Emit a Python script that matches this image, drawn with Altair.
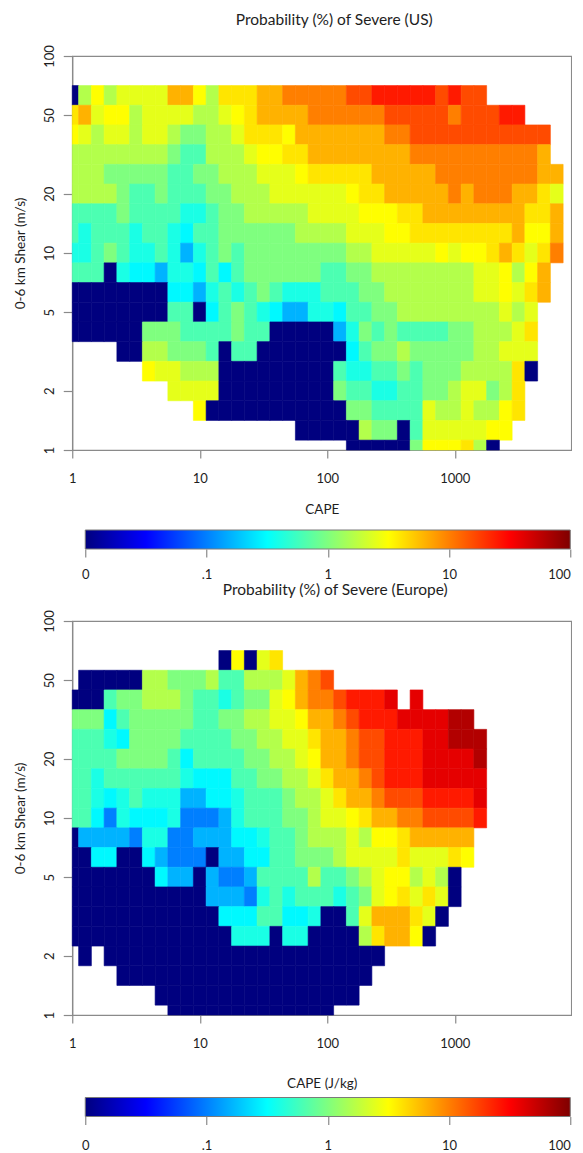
import math
import altair as alt
import pandas as pd

# ---------------- data ----------------
# Cell codes -> probability of severe (%) ; '.' = no data, '0' = zero probability
CODE_PROB = {
    "0": 0.0, "4": 0.063, "5": 0.10, "6": 0.16, "7": 0.30, "8": 0.40, "9": 0.63,
    "A": 1.0, "B": 1.6, "C": 2.5, "Y": 3.2, "D": 4.0, "E": 6.3, "F": 10.0,
    "G": 16.0, "H": 25.0, "I": 40.0, "J": 63.0, "K": 100.0,
}

# bin centres (log10) of CAPE columns and of shear rows (rows listed top -> bottom)
CAPE_LOG10 = [0.0, 0.1, 0.2, 0.3, 0.4, 0.5, 0.6, 0.7, 0.8, 0.9,
              1.0, 1.1, 1.2, 1.3, 1.4, 1.5, 1.6, 1.7, 1.8, 1.9,
              2.0, 2.1, 2.2, 2.3, 2.4, 2.5, 2.6, 2.7, 2.8, 2.9,
              3.0, 3.1, 3.2, 3.3, 3.4, 3.5, 3.6, 3.7, 3.8]
SHEAR_LOG10 = [1.8, 1.7, 1.6, 1.5, 1.4, 1.3, 1.2, 1.1, 1.0, 0.9,
               0.8, 0.7, 0.6, 0.5, 0.4, 0.3, 0.2, 0.1, 0.0]

US_ROWS = [
    "0BYBCCCC" "EEYBDDDE" "EFFFFFGG" "HHHHHGHG" "G......",
    "DECYYBCC" "CCBBCYDE" "EEEFFFFF" "FGGGGGFG" "GGHH...",
    "YCBCCBCC" "BAABBCDD" "DYEEEEEE" "EFFGGGGG" "GGGGGG.",
    "BBBBBBBB" "A99BBBCY" "YDDEEEEE" "EEEFFFFF" "FFFFFE.",
    "BBBAAAAA" "99AABBBC" "CCYDDDDD" "EEEEEFFF" "FFFFFEE",
    "BBBBA99A" "999AABBB" "CCCCCCYD" "DEEEEEFE" "FFFEEDC",
    "9999A999" "9889AABB" "BBBCCCCY" "YYDDEEEE" "EEEEDDE",
    "98999899" "8799AAAA" "AABBBBCC" "CYYDDDDD" "DDDEYYE",
    "889A9889" "8689A9AA" "AAAAAABB" "CCCCCYCY" "YDEDCDF",
    "99908776" "887979AA" "AAAA99AA" "BBBBBBBB" "CCYBYE.",
    "00000000" "7768989A" "9888999A" "ABBBBBBB" "CCYCDE.",
    "00000000" "99079A98" "76688799" "AABBBBBB" "BBCBC..",
    "000000AA" "A9999A99" "0000068A" "9A9999AA" "BBBCD..",
    "....00BB" "AAA90990" "00000079" "AABAAAAA" "BBCCC..",
    "......YC" "CBBB0000" "00000988" "99A9AAAB" "BBBD0..",
    "........" "CCCC0000" "00000A99" "8899AABC" "CABD...",
    "........" "..Y00000" "000000AA" "9999CBBC" "BBYD...",
    "........" "........" "..00000B" "AA09CCCC" "CYY....",
    "........" "........" "......00" "000AYYYD" "B0.....",
]

EU_ROWS = [
    "........" "....0Y0C" "D......." "........" ".......",
    ".00000BB" "AAAB99BB" "BCEFG..." "........" ".......",
    "0009AABB" "BA9989AA" "CYEFFGHH" "HI.I...." ".......",
    "AAA79AAA" "AA99AABB" "CCYEEFGH" "HHIIIIJJ" ".......",
    "99987AAA" "A9999AAB" "BCCDEEFG" "GHHHIIJJ" "J......",
    "9999AAAA" "979999AA" "BBCYEEFG" "GHHHIIII" "J......",
    "99899999" "9877799A" "ABBCDEEF" "GHHHIIII" "I......",
    "99878988" "86677899" "9ABBCDEE" "FGGGHHHH" "I......",
    "99758777" "85556899" "9AABCCYD" "EEFFGGGG" "H......",
    "06666588" "55666778" "99ABBBCB" "YYDEEEEE" ".......",
    "00770076" "55506677" "99AAABCC" "CCDCCCDY" ".......",
    "00000007" "66065569" "999B99AB" "CYYBCB0." ".......",
    "00000000" "00066658" "9899989A" "CYDCDC0." ".......",
    "00000000" "00007779" "9778009C" "EEEDC0.." ".......",
    "00000000" "00000888" "0880000B" "DEEY0..." ".......",
    ".0.00000" "00000000" "00000000" "0......." ".......",
    "....0000" "00000000" "00000000" "........" ".......",
    ".......0" "00000000" "0000000." "........" ".......",
    "........" "00000000" "00000..." "........" ".......",
]

X_TICKS = [1, 10, 100, 1000]
Y_TICKS = [1, 2, 5, 10, 20, 50, 100]
CB_TICKS = [0.01, 0.1, 1, 10, 100]

# jet colour map, keyed on log10(probability %)
JET_DOMAIN = [-2, -1.5, -1, -0.5, 0, 0.5, 1, 1.5, 2]
JET_RANGE = ["#00007f", "#0000ff", "#007fff", "#00ffff", "#7fff7f",
             "#ffff00", "#ff7f00", "#ff0000", "#7f0000"]

# ---------------- layout / style ----------------
FONT = "Lato"
TEXT = "#1e1e1e"
GRAY = "#8a8a8a"
PLOT_W = 499
PLOT_H = 394
DECADE_PX = 127.5
CAPE_MAX = 10 ** (PLOT_W / DECADE_PX)
HALF = 0.05
BAR_LEFT_GAP = 13
BAR_RIGHT_GAP = 1


def cell_table(rows):
    recs = []
    for ri, row in enumerate(rows):
        ls = SHEAR_LOG10[ri]
        for ci, ch in enumerate(row):
            if ch == ".":
                continue
            lc = CAPE_LOG10[ci]
            p = CODE_PROB[ch]
            recs.append({
                "cape_lo": max(1.0, 10 ** (lc - HALF)),
                "cape_hi": 10 ** (lc + HALF),
                "shear_lo": max(1.0, 10 ** (ls - HALF)),
                "shear_hi": 10 ** (ls + HALF),
                "prob": p,
                "logp": math.log10(max(p, 0.01)),
            })
    return pd.DataFrame(recs)


color_scale = alt.Scale(domain=JET_DOMAIN, range=JET_RANGE, interpolate="rgb")


def heatmap(df, title, title_offset, title_dx, xtitle, xtitle_pad):
    return alt.Chart(df).mark_rect(strokeWidth=0.6).encode(
        x=alt.X("cape_lo:Q",
                scale=alt.Scale(type="log", domain=[1, CAPE_MAX], nice=False),
                axis=alt.Axis(values=X_TICKS, format="d", title=xtitle,
                              titlePadding=xtitle_pad, tickSize=8, labelPadding=14,
                              labelFlush=False)),
        x2="cape_hi:Q",
        y=alt.Y("shear_lo:Q",
                scale=alt.Scale(type="log", domain=[1, 100], nice=False),
                axis=alt.Axis(values=Y_TICKS, format="d", title="0-6 km Shear (m/s)",
                              labelAngle=270, labelAlign="center", labelBaseline="bottom",
                              tickSize=9, labelPadding=7, titlePadding=15.3)),
        y2="shear_hi:Q",
        fill=alt.Fill("logp:Q", scale=color_scale, legend=None),
        stroke=alt.Stroke("logp:Q", scale=color_scale, legend=None),
        tooltip=[alt.Tooltip("prob:Q", title="Probability (%)")],
    ).properties(
        width=PLOT_W, height=PLOT_H,
        title=alt.TitleParams(title, offset=title_offset, dx=title_dx),
        view=alt.ViewBackground(stroke=GRAY, strokeWidth=1.2),
    )


decade = (PLOT_W - BAR_LEFT_GAP - BAR_RIGHT_GAP) / 4.0
CB_MIN = 10 ** (-2 - BAR_LEFT_GAP / decade)
CB_MAX = 10 ** (2 + BAR_RIGHT_GAP / decade)

jet_gradient = alt.LinearGradient(
    gradient="linear",
    stops=[alt.GradientStop(offset=i / (len(JET_RANGE) - 1), color=c)
           for i, c in enumerate(JET_RANGE)],
    x1=0, x2=1, y1=0, y2=0,
)


def colorbar(label_pad):
    bar_df = pd.DataFrame({"lo": [CB_TICKS[0]], "hi": [CB_TICKS[-1]]})
    return alt.Chart(bar_df).mark_rect(fill=jet_gradient, stroke="#7a7a7a", strokeWidth=1).encode(
        x=alt.X("lo:Q",
                scale=alt.Scale(type="log", domain=[CB_MIN, CB_MAX], nice=False),
                axis=alt.Axis(values=CB_TICKS, title=None, domain=False, tickSize=8,
                              labelPadding=label_pad, labelFlush=5,
                              labelExpr="datum.value < 0.05 ? '0' : (datum.value < 0.5 ? '.1' : format(datum.value, 'd'))")),
        x2="hi:Q",
    ).properties(width=PLOT_W, height=19)


us = cell_table(US_ROWS)
eu = cell_table(EU_ROWS)

top = alt.vconcat(
    heatmap(us, "Probability (%) of Severe (US)", 16, 12.5, "CAPE", 17.75),
    colorbar(11.5),
    spacing=12,
)
bottom = alt.vconcat(
    heatmap(eu, "Probability (%) of Severe (Europe)", 11, 13.5, "CAPE (J/kg)", 26.25),
    colorbar(15),
    spacing=5.5,
)

chart = alt.vconcat(top, bottom, spacing=0).properties(
    padding={"left": 5.25, "top": 4, "right": 0, "bottom": 0}
).configure_view(strokeWidth=0).configure_axis(
    labelFont=FONT, titleFont=FONT, labelFontSize=13, titleFontSize=13.5,
    labelColor=TEXT, titleColor=TEXT, titleFontWeight="normal",
    domainColor=GRAY, tickColor=GRAY, domainWidth=1.2, tickWidth=1.2, grid=False,
).configure_title(
    font=FONT, fontSize=15.5, fontWeight="normal", color=TEXT, anchor="middle",
)

chart.save("out.html", embed_options={"renderer": "svg", "actions": False})
